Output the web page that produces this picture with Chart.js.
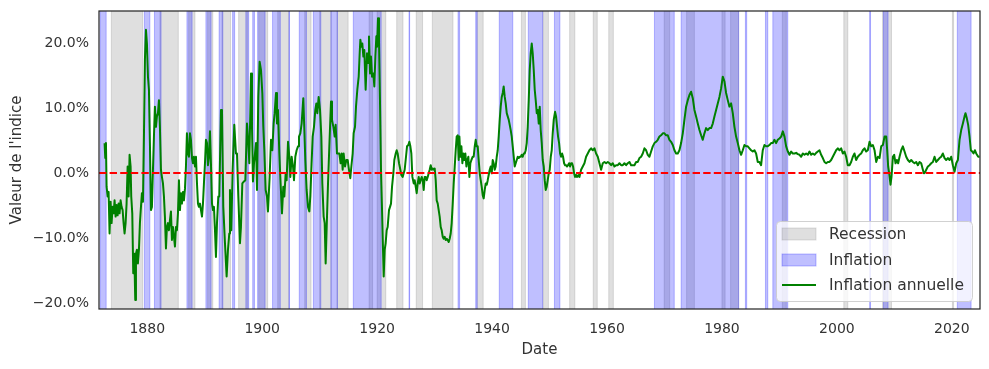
<!DOCTYPE html>
<html><head><meta charset="utf-8">
<script src="https://cdn.jsdelivr.net/npm/chart.js@4.4.1/dist/chart.umd.min.js"></script>
<style>html,body{margin:0;padding:0;background:#fff;}canvas{display:block;}</style>
</head><body>
<canvas id="c" width="989" height="369"></canvas>
<script>
// ---- Data ----
const years = [
1872.57,1872.69,1872.81,1872.92,1873.10,1873.27,1873.44,1873.62,1873.79,1873.97,1874.14,1874.31,1874.49,1874.66,1874.84,1875.01,1875.18,1875.36,1875.53,1875.71,
1875.88,1876.05,1876.23,1876.40,1876.58,1876.75,1876.92,1877.10,1877.21,1877.39,1877.56,1877.74,1877.91,1878.03,1878.20,1878.37,1878.55,1878.72,1878.90,1879.07,
1879.25,1879.42,1879.59,1879.77,1879.94,1880.12,1880.29,1880.46,1880.64,1880.81,1880.99,1881.16,1881.33,1881.51,1881.68,1881.86,1882.03,1882.20,1882.38,1882.55,
1882.73,1882.90,1883.07,1883.25,1883.42,1883.60,1883.77,1883.95,1884.12,1884.29,1884.47,1884.64,1884.82,1884.99,1885.16,1885.34,1885.51,1885.69,1885.86,1886.03,
1886.21,1886.38,1886.56,1886.73,1886.90,1887.08,1887.25,1887.43,1887.60,1887.78,1887.95,1888.12,1888.30,1888.47,1888.65,1888.82,1888.99,1889.17,1889.34,1889.52,
1889.69,1889.86,1890.04,1890.21,1890.39,1890.56,1890.73,1890.91,1891.08,1891.26,1891.43,1891.60,1891.78,1891.95,1892.13,1892.36,
1892.53,1892.82,1893.00,1893.23,1893.52,1893.81,1894.04,1894.27,1894.39,1894.62,1894.85,1895.14,1895.43,1895.61,1895.84,1896.13,1896.30,1896.54,1896.83,1897.06,
1897.35,1897.58,1897.76,1898.05,1898.22,1898.39,1898.57,1898.74,1898.92,1899.09,1899.32,1899.55,1899.79,1900.02,1900.19,1900.37,1900.60,1900.83,1901.00,1901.29,
1901.53,1901.76,1901.99,1902.16,1902.40,1902.57,1902.74,1902.98,1903.15,1903.44,1903.67,1903.85,1904.08,1904.25,1904.49,1904.72,1904.89,1905.12,1905.36,1905.53,
1905.76,1905.99,1906.23,1906.40,1906.63,1906.86,1907.15,1907.33,1907.50,1907.73,1907.97,1908.20,1908.37,1908.55,1908.78,1909.01,1909.24,1909.42,1909.59,1909.82,
1910.06,1910.29,1910.46,1910.69,1910.87,1911.04,1911.22,1911.45,1911.68,1911.97,1912.14,1912.38,1912.61,1912.78,1913.01,1913.25,
1913.42,1913.65,1913.83,1914.00,1914.17,1914.41,1914.64,1914.87,1915.10,1915.33,1915.51,1915.74,1915.91,1916.15,1916.32,1916.55,1916.79,1916.96,1917.08,1917.25,
1917.42,1917.60,1917.77,1918.00,1918.24,1918.41,1918.58,1918.76,1918.93,1919.11,1919.34,1919.51,1919.69,1919.86,1919.98,1920.15,1920.32,1920.50,1920.67,1920.85,
1921.02,1921.14,1921.31,1921.48,1921.66,1921.83,1922.06,1922.24,1922.41,1922.59,1922.82,1922.99,1923.23,1923.40,1923.57,1923.81,1924.04,1924.21,1924.44,1924.62,
1924.79,1925.02,1925.20,1925.43,1925.60,1925.78,1925.95,1926.13,1926.36,1926.53,1926.71,1926.88,1927.06,1927.23,1927.40,1927.58,1927.75,1927.93,1928.10,1928.27,
1928.45,1928.62,1928.80,1928.97,1929.14,1929.32,1929.49,1929.67,1929.84,1930.01,1930.19,1930.36,1930.54,1930.71,1930.88,1931.06,1931.23,1931.41,1931.58,1931.75,
1931.93,1932.10,1932.28,1932.45,1932.62,1932.80,1932.97,1933.15,1933.32,1933.50,1933.67,1933.84,1934.02,1934.19,
1934.31,1934.48,1934.66,1934.83,1935.00,1935.18,1935.35,1935.53,1935.70,1935.87,1936.05,1936.22,1936.40,1936.63,1936.80,1936.98,1937.15,1937.32,1937.50,1937.67,
1937.85,1938.02,1938.19,1938.37,1938.54,1938.72,1938.89,1939.07,1939.24,1939.41,1939.59,1939.76,1939.94,1940.11,1940.28,1940.46,1940.63,1940.81,1940.98,1941.15,
1941.33,1941.50,1941.68,1941.85,1942.02,1942.20,1942.37,1942.55,1942.72,1942.89,1943.07,1943.24,1943.42,1943.59,1943.77,1943.94,1944.11,1944.29,1944.46,1944.64,
1944.81,1944.98,1945.16,1945.33,1945.51,1945.68,1945.85,1946.03,1946.20,1946.38,1946.55,1946.72,1946.90,1947.07,1947.25,1947.42,1947.59,1947.77,1947.94,1948.12,
1948.29,1948.46,1948.64,1948.81,1948.99,1949.16,1949.33,1949.51,1949.68,1949.86,1950.03,1950.21,1950.38,1950.55,1950.73,1950.96,1951.13,1951.31,1951.48,1951.66,
1951.83,1952.00,1952.18,1952.35,1952.53,1952.70,1952.87,1953.05,1953.22,1953.40,1953.57,1953.74,1953.92,1954.09,1954.27,1954.44,1954.61,1954.79,1955.02,
1955.20,1955.49,1955.78,1956.07,1956.36,1956.65,1956.94,1957.23,1957.52,1957.81,1958.10,1958.39,1958.68,1958.97,1959.26,1959.55,1959.84,1960.13,1960.42,1960.71,
1961.00,1961.29,1961.58,1961.87,1962.16,1962.45,1962.74,1963.03,1963.32,1963.61,1963.90,1964.19,1964.48,1964.77,1965.06,1965.35,1965.64,1965.93,1966.22,1966.51,
1966.80,1967.09,1967.38,1967.67,1967.96,1968.25,1968.54,1968.83,1969.12,1969.41,1969.70,1969.99,1970.28,1970.57,1970.86,1971.15,1971.44,1971.73,1972.02,1972.31,
1972.60,1972.89,1973.18,1973.47,1973.76,1974.05,1974.34,1974.63,1974.92,1975.21,1975.50,1975.79,1976.08,1976.37,1976.66,1976.95,1977.24,1977.53,1977.82,1978.11,
1978.40,1978.69,1978.98,1979.27,1979.56,1979.85,1980.14,1980.43,1980.72,1981.01,1981.30,1981.59,1981.88,1982.17,1982.46,1982.75,1983.04,1983.33,1983.62,1983.91,
1984.20,1984.49,1984.78,1985.07,1985.36,1985.65,1985.94,1986.23,1986.52,1986.81,1987.10,1987.39,1987.68,1987.97,1988.26,1988.55,1988.84,1989.13,1989.42,1989.71,
1990.00,
1990.30,1990.59,1990.88,1991.17,1991.46,1991.75,1992.04,1992.33,1992.62,1992.91,1993.20,1993.49,1993.78,1994.07,1994.36,1994.65,1994.94,1995.23,1995.52,1995.81,
1996.10,1996.39,1996.68,1996.97,1997.26,1997.55,1997.84,1998.13,1998.42,1998.71,1999.00,1999.29,1999.58,1999.87,2000.16,2000.45,2000.74,2001.03,2001.32,2001.61,
2001.90,2002.19,2002.48,2002.77,2003.06,2003.35,2003.64,2003.93,2004.22,2004.51,2004.80,2005.09,2005.38,2005.68,2005.97,2006.26,2006.55,2006.84,2007.13,2007.42,
2007.71,2008.00,2008.29,2008.58,
2008.75,2008.92,2009.10,2009.33,2009.50,2009.74,2009.97,2010.20,2010.43,2010.66,2010.90,
2011.19,2011.48,2011.77,2012.06,2012.35,2012.64,2012.93,2013.22,2013.51,2013.80,2014.09,2014.38,2014.67,
2014.96,2015.13,2015.31,2015.54,2015.83,2016.12,2016.41,2016.70,2016.99,2017.28,2017.57,2017.86,2018.15,2018.44,2018.73,2019.02,2019.31,2019.60,2019.89,2020.18,
2020.47,2020.76,2021.05,2021.34,2021.63,2021.92,2022.21,
2022.38,2022.61,2022.84,2023.08,2023.31,2023.54,2023.78,2024.01,2024.24,2024.59,2024.82
];

const inflation = [
4.6,2.3,4.6,-2.1,-3.6,-2.9,-9.3,-4.4,-7.7,-5.2,-6.2,-4.2,-6.7,-4.9,-6.5,-4.7,-6.2,-4.2,-5.2,-5.7,
-7.7,-9.3,-7.7,-4.7,1.0,-3.6,2.8,1.0,-3.6,-6.2,-15.4,-12.4,-19.5,-12.4,-11.8,-13.9,-11.8,-7.7,-5.2,-3.1,
-4.4,5.6,17.4,22.0,19.9,14.8,12.8,4.6,-5.7,-5.2,0.5,5.6,10.2,7.1,8.7,9.2,11.2,7.1,0.5,-0.6,
-1.6,-3.6,-6.7,-11.6,-8.3,-7.7,-8.8,-7.2,-5.9,-10.3,-8.3,-9.8,-11.3,-8.3,-8.8,-6.2,-1.1,-5.7,-3.1,-4.7,
-2.9,-4.2,-2.4,1.0,6.1,3.0,2.5,6.1,5.1,2.3,1.5,2.5,1.0,2.5,-1.6,-4.7,-5.2,-4.7,-5.7,-6.7,
-4.7,-1.6,1.5,5.1,4.6,1.2,2.5,6.4,1.5,-4.7,-5.7,-5.2,-8.8,-12.9,-7.7,-3.6,
-3.6,9.7,9.7,-5.2,-10.8,-15.9,-11.8,-9.3,-2.6,-8.8,0.5,7.4,3.0,3.0,-3.6,-10.8,-8.3,-1.6,-1.3,-1.1,
7.6,4.6,1.5,15.3,7.1,-1.3,1.5,3.0,4.6,-2.6,11.7,17.1,15.8,12.3,7.1,3.5,-2.6,-3.6,-5.9,-0.6,
5.1,3.5,7.6,9.2,12.3,7.6,9.7,3.0,-0.6,-6.2,-2.1,-3.6,-0.05,-1.1,4.8,2.5,-0.6,2.5,1.0,-1.1,
2.5,3.5,4.1,5.6,6.1,7.6,11.5,6.6,2.0,-2.6,-5.2,-5.9,-3.6,0.5,5.6,7.1,9.7,10.7,9.2,11.7,
9.7,5.6,-1.6,-6.7,-7.7,-13.9,-8.3,-1.6,4.1,11.0,8.2,7.1,5.6,7.4,3.0,3.0,
3.0,1.5,3.0,0.5,3.0,1.0,2.0,2.0,0.5,-0.8,1.0,3.0,6.1,7.1,10.2,12.8,14.8,18.4,20.5,19.4,
19.9,17.9,18.9,12.8,18.4,16.9,21.0,15.3,17.9,14.8,15.3,13.3,17.9,21.0,19.4,23.8,20.5,10.7,0.5,-5.7,
-11.8,-15.9,-11.8,-10.8,-8.8,-8.3,-5.7,-5.2,-4.7,-2.1,-0.05,2.0,3.0,3.5,3.0,1.5,0.5,-0.3,-0.6,-0.05,
0.5,2.5,4.1,4.3,4.8,4.1,3.0,-0.6,-1.6,-1.1,-2.1,-3.1,-1.6,-0.6,-1.6,-1.1,-0.6,-1.1,-2.6,-0.6,
-0.6,-1.1,-0.6,-0.05,0.5,1.2,0.5,0.7,0.5,0.7,-1.1,-4.2,-4.7,-5.7,-6.7,-8.3,-8.8,-9.8,-10.1,-9.8,
-10.3,-10.1,-10.3,-10.6,-10.1,-9.3,-7.7,-4.7,-1.6,1.0,3.5,5.6,5.8,2.0,
5.6,2.5,4.1,1.5,3.0,2.0,3.0,1.0,2.0,2.5,-0.6,1.5,2.0,2.5,2.5,4.1,5.1,4.1,4.1,2.0,
-0.05,-1.1,-2.1,-3.4,-3.9,-2.6,-1.6,-1.8,-1.1,-0.3,0.5,1.0,-0.05,2.0,1.5,0.5,1.0,2.5,3.5,5.6,
8.2,10.2,11.7,12.3,13.3,11.7,10.7,9.2,8.7,8.2,7.4,6.6,5.6,4.1,2.5,1.0,1.5,2.0,2.5,2.3,
2.5,2.5,2.8,2.5,3.0,3.0,3.5,4.6,7.1,11.2,15.8,18.4,19.9,18.4,15.8,12.8,11.2,9.2,9.7,7.6,
10.2,6.6,4.6,2.0,1.0,-1.1,-2.6,-2.1,-1.1,-0.05,0.5,2.5,3.5,6.1,8.2,9.4,8.7,7.1,5.6,4.6,
3.0,2.5,3.0,2.5,1.5,1.2,1.2,1.0,1.2,1.5,1.0,1.5,1.5,1.0,-0.05,-0.6,-0.3,-0.6,-0.3,
-0.6,0.5,1.0,1.5,2.5,3.0,3.5,3.8,3.5,3.8,3.0,2.5,1.5,0.5,1.5,1.7,1.5,1.7,1.5,1.2,
1.5,1.0,1.2,1.2,1.5,1.2,1.2,1.5,1.2,1.5,1.7,1.2,1.2,1.2,1.7,1.7,2.3,2.5,3.0,3.8,
3.5,2.8,2.5,3.3,4.1,4.6,4.8,5.1,5.6,5.8,6.1,6.1,5.8,5.8,5.1,4.8,4.3,3.5,3.0,3.0,
3.5,4.6,6.1,8.2,10.2,11.2,12.0,12.5,11.5,9.7,8.7,7.6,6.6,5.8,5.1,6.1,6.9,6.6,6.9,6.9,
7.6,8.7,9.7,10.7,11.7,13.0,14.8,14.1,12.3,11.2,10.2,10.7,9.2,7.1,5.6,4.6,3.5,2.8,3.5,4.3,
4.1,4.1,3.8,3.5,3.3,3.5,3.0,1.7,1.7,1.2,3.5,4.3,4.1,4.1,4.3,4.6,4.6,5.1,4.6,5.1,
5.3,
5.6,6.4,5.6,4.1,3.3,2.8,3.3,3.0,3.0,3.1,2.9,2.8,2.5,3.0,2.8,3.0,2.8,3.3,2.8,3.0,
2.8,3.1,3.3,3.5,2.8,2.3,1.7,1.5,1.7,1.7,2.0,2.5,3.0,3.5,3.8,3.5,3.8,3.0,3.3,2.5,
1.2,1.2,1.7,2.5,3.0,2.0,2.5,2.8,3.0,3.5,3.8,3.3,3.5,4.8,4.1,4.3,3.5,1.7,2.5,2.3,
4.1,4.3,5.6,5.6,
3.5,1.0,-0.05,-1.8,-0.6,2.5,2.8,1.5,2.0,1.5,2.5,
3.5,4.1,3.3,2.5,2.0,1.7,2.0,1.7,1.5,1.7,1.2,1.7,1.5,
0.5,-0.05,0.05,0.5,1.0,1.2,1.5,1.7,2.5,1.7,2.0,2.3,2.5,3.0,2.3,2.0,2.3,2.0,2.5,1.2,
0.2,1.5,2.0,5.1,6.6,7.6,8.7,
9.2,8.4,7.4,5.6,3.5,3.3,3.0,3.5,3.0,2.5,2.5
];

// Recession periods (grey) and inflation periods (blue), [start, end] in years
const recessions = [
[1873.75,1879.2],[1882.2,1885.4],[1887.2,1888.3],[1890.5,1891.4],[1893.0,1894.5],[1895.9,1897.5],
[1899.4,1900.95],[1902.7,1904.6],[1907.4,1908.5],[1910.0,1912.0],[1913.0,1914.95],[1918.6,1919.2],
[1920.0,1921.5],[1923.4,1924.5],[1926.8,1927.9],[1929.6,1933.2],[1937.4,1938.45],[1945.1,1945.8],
[1948.85,1949.8],[1953.5,1954.4],[1957.6,1958.3],[1960.3,1961.1],[1969.95,1970.9],[1973.85,1975.2],
[1980.0,1980.55],[1981.5,1982.9],[1990.5,1991.2],[2001.2,2001.9],[2007.95,2009.5],[2020.1,2020.3]
];
const inflationPeriods = [
[1871.8,1872.85],[1879.5,1880.45],[1881.25,1882.4],[1886.9,1887.8],[1890.2,1891.1],[1892.5,1893.15],
[1894.85,1895.2],[1897.15,1897.65],[1898.35,1898.65],[1899.2,1900.5],[1901.8,1903.15],[1904.65,1904.75],
[1906.45,1907.7],[1908.9,1910.2],[1911.95,1913.1],[1915.85,1920.7],[1925.55,1925.65],[1934.08,1934.35],
[1937.15,1937.4],[1941.25,1943.6],[1946.3,1948.8],[1950.85,1951.8],[1968.25,1971.7],[1972.9,1982.9],
[1984.08,1984.3],[1987.57,1987.97],[1988.85,1991.45],[2005.7,2005.85],[2008.1,2008.9],[2020.95,2023.35]
];

const xLimits = [1871.6, 2024.9];
const yLimits = [-20.9, 24.9];
const xTicks = [1880, 1900, 1920, 1940, 1960, 1980, 2000, 2020];
const yTicks = [-20, -10, 0, 10, 20];
const zeroLevel = [0, 0];
const legendLabels = ['Recession', 'Inflation', 'Inflation annuelle'];
const xTitle = 'Date';
const yTitle = "Valeur de l'indice";

if (years.length !== inflation.length) console.error('length mismatch', years.length, inflation.length);

// ---- Styles ----
const FONT = "'DejaVu Sans', sans-serif";
const TEXT = '#333333';
const GREY = 'rgba(128,128,128,0.25)';
const BLUE = 'rgba(0,0,255,0.25)';
const GREEN = '#008000';

Chart.defaults.font.family = FONT;

const bandsPlugin = {
  id: 'bands',
  beforeDatasetsDraw(chart) {
    const {ctx, chartArea: a, scales: {x}} = chart;
    ctx.save();
    ctx.beginPath(); ctx.rect(a.left, a.top, a.width, a.height); ctx.clip();
    const draw = (list, color) => {
      for (const [s, e] of list) {
        const x1 = x.getPixelForValue(s), x2 = x.getPixelForValue(e);
        ctx.fillStyle = color;
        ctx.fillRect(x1, a.top, x2 - x1, a.height);
        ctx.strokeStyle = color; ctx.lineWidth = 1;
        ctx.beginPath();
        ctx.moveTo(x1, a.top); ctx.lineTo(x1, a.bottom);
        ctx.moveTo(x2, a.top); ctx.lineTo(x2, a.bottom);
        ctx.stroke();
      }
    };
    draw(recessions, GREY);
    draw(inflationPeriods, BLUE);
    ctx.restore();
  }
};

const legendPlugin = {
  id: 'boxLegend',
  afterDatasetsDraw(chart) {
    const {ctx, chartArea: a} = chart;
    const w = 196, h = 80;
    const bx = a.right - 8 - w, by = a.bottom - 8 - h;
    ctx.save();
    ctx.beginPath();
    if (ctx.roundRect) ctx.roundRect(bx + 0.5, by + 0.5, w, h, 4); else ctx.rect(bx + 0.5, by + 0.5, w, h);
    ctx.fillStyle = 'rgba(255,255,255,0.8)';
    ctx.fill();
    ctx.strokeStyle = 'rgba(204,204,204,0.9)';
    ctx.lineWidth = 1;
    ctx.stroke();
    const px = bx + 6, pw = 34, tx = bx + 53;
    const rows = [by + 13, by + 39, by + 64];
    [[GREY, rows[0]], [BLUE, rows[1]]].forEach(([c, cy]) => {
      ctx.fillStyle = c;
      ctx.fillRect(px, cy - 6, pw, 12);
      ctx.strokeStyle = c; ctx.lineWidth = 1;
      ctx.strokeRect(px, cy - 6, pw, 12);
    });
    ctx.strokeStyle = GREEN; ctx.lineWidth = 2;
    ctx.beginPath(); ctx.moveTo(px, rows[2]); ctx.lineTo(px + pw, rows[2]); ctx.stroke();
    ctx.fillStyle = TEXT;
    ctx.font = '15.5px ' + FONT;
    ctx.textBaseline = 'middle';
    ctx.textAlign = 'left';
    legendLabels.forEach((t, i) => ctx.fillText(t, tx, rows[i] + 1));
    ctx.restore();
  }
};

const framePlugin = {
  id: 'frame',
  afterDraw(chart) {
    const {ctx, chartArea: a} = chart;
    ctx.save();
    ctx.strokeStyle = '#222222';
    ctx.lineWidth = 1.2;
    ctx.strokeRect(a.left, a.top, a.width, a.height);
    ctx.restore();
  }
};

const fmtPct = v => (v < 0 ? '\u2212' : '') + Math.abs(v).toFixed(1) + '%';

new Chart(document.getElementById('c'), {
  type: 'line',
  data: {
    datasets: [
      {
        label: 'zero',
        data: xLimits.map((t, i) => ({x: t, y: zeroLevel[i]})),
        borderColor: '#ff0000', borderWidth: 2, borderDash: [7.4, 3.2],
        pointRadius: 0, order: 0
      },
      {
        label: legendLabels[2],
        data: years.map((t, i) => ({x: t, y: inflation[i]})),
        borderColor: GREEN, borderWidth: 2, pointRadius: 0, tension: 0,
        borderJoinStyle: 'round', order: 1
      }
    ]
  },
  options: {
    responsive: false,
    animation: false,
    devicePixelRatio: 1,
    layout: {padding: {left: 0, right: 9, top: 11, bottom: 0}},
    plugins: {legend: {display: false}, tooltip: {enabled: false}},
    scales: {
      x: {
        type: 'linear', min: xLimits[0], max: xLimits[1],
        grid: {display: false, drawTicks: false, tickLength: 0},
        border: {display: false},
        afterBuildTicks: s => { s.ticks = xTicks.map(v => ({value: v})); },
        afterFit: s => { s.height = 60; s.paddingLeft = 0; s.paddingRight = 0; },
        ticks: {padding: 12, color: TEXT, font: {size: 14}, maxRotation: 0, autoSkip: false,
                callback: v => String(v)},
        title: {display: true, text: xTitle, color: TEXT, font: {size: 15}, padding: {top: 0, bottom: 10}}
      },
      y: {
        type: 'linear', min: yLimits[0], max: yLimits[1],
        grid: {display: false, drawTicks: false, tickLength: 0},
        border: {display: false},
        afterBuildTicks: s => { s.ticks = yTicks.map(v => ({value: v})); },
        afterFit: s => { s.width = 99; s.paddingTop = 0; s.paddingBottom = 0; },
        ticks: {padding: 10, color: TEXT, font: {size: 14}, autoSkip: false, callback: v => fmtPct(v)},
        title: {display: true, text: yTitle, color: TEXT, font: {size: 15}, padding: {top: 8, bottom: 4}}
      }
    }
  },
  plugins: [bandsPlugin, legendPlugin, framePlugin]
});
</script>
</body></html>
